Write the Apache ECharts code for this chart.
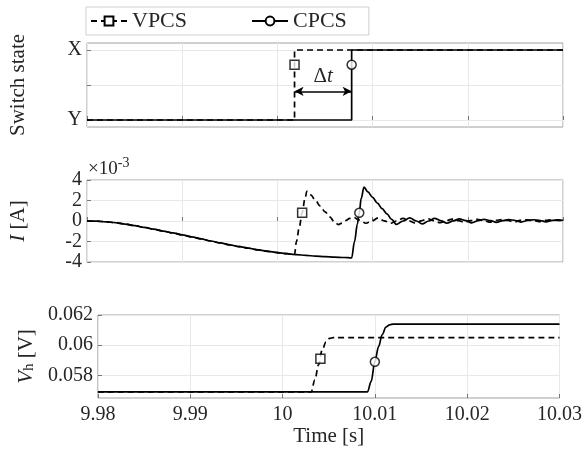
<!DOCTYPE html>
<html><head><meta charset="utf-8">
<script src="https://cdn.jsdelivr.net/npm/echarts@6/dist/echarts.min.js"></script>
<style>html,body{margin:0;padding:0;background:#fff}#c{width:585px;height:453px}</style>
</head><body><div id="c"></div>
<script>
// ---------- data ----------
const timeMin = 9.98, timeMax = 10.03, timeStep = 0.01;
const stateLabels = ['Y', 'X'];           // state 0 = Y, state 1 = X
// top panel: switch state
const vpcsStateT = [9.98, 10.0018, 10.0018, 10.03];
const vpcsState  = [0, 0, 1, 1];
const cpcsStateT = [9.98, 10.0078, 10.0078, 10.03];
const cpcsState  = [0, 0, 1, 1];
const vpcsStateMark = [10.0018, 0.79];
const cpcsStateMark = [10.0078, 0.79];
const deltaT = [10.0018, 10.0078];
const deltaLevel = 0.41;
// middle panel: current (x 1e-3 A), common part before VPCS switching
const preT = [9.98, 9.981, 9.982, 9.983, 9.984, 9.985, 9.986, 9.987, 9.988, 9.989, 9.990, 9.991, 9.992, 9.993, 9.994, 9.995, 9.996, 9.997, 9.998, 9.999, 10.000, 10.001, 10.0018];
const preI = [0, -0.02, -0.08, -0.17, -0.3, -0.45, -0.62, -0.8, -0.98, -1.16, -1.35, -1.55, -1.75, -1.95, -2.14, -2.32, -2.5, -2.66, -2.82, -2.96, -3.08, -3.19, -3.27];
const vpcsCurT = [10.002, 10.0023, 10.0026, 10.0029, 10.0031, 10.0035, 10.004, 10.0045, 10.005, 10.0055, 10.006, 10.0064, 10.0068, 10.0072, 10.0076, 10.008, 10.0086, 10.0093, 10.0099, 10.0106, 10.0112, 10.0119, 10.0125, 10.0132, 10.0138, 10.0145, 10.0151, 10.0158, 10.0164, 10.0171, 10.0177, 10.0184, 10.019, 10.0197, 10.0203, 10.021, 10.0216, 10.0223, 10.0229, 10.0236, 10.0242, 10.0249, 10.0255, 10.0262, 10.0268, 10.0275, 10.0281, 10.0288, 10.0294, 10.03];
const vpcsCur  = [-2.0, -0.6, 0.8, 2.2, 2.9, 2.55, 2.0, 1.45, 0.9, 0.4, -0.1, -0.35, -0.2, 0.05, 0.25, 0.35, 0.1, -0.22, 0.0, 0.3, 0.02, -0.22, 0.0, 0.25, 0.02, -0.2, 0.02, 0.22, 0.03, -0.17, 0.03, 0.19, 0.04, -0.14, 0.04, 0.16, 0.05, -0.11, 0.05, 0.14, 0.05, -0.09, 0.06, 0.12, 0.06, -0.07, 0.06, 0.11, 0.06, 0.02];
const cpcsCurT = [10.002, 10.003, 10.004, 10.005, 10.006, 10.007, 10.0078, 10.0081, 10.0084, 10.0086, 10.0088, 10.0091, 10.0095, 10.01, 10.0105, 10.011, 10.0115, 10.012, 10.0125, 10.0132, 10.0139, 10.0146, 10.0152, 10.0159, 10.0165, 10.0172, 10.0178, 10.0185, 10.0191, 10.0198, 10.0204, 10.0211, 10.0217, 10.0224, 10.023, 10.0237, 10.0243, 10.025, 10.0256, 10.0263, 10.0269, 10.0276, 10.0282, 10.0289, 10.0295, 10.03];
const cpcsCur  = [-3.28, -3.36, -3.42, -3.47, -3.52, -3.56, -3.6, -2.0, -0.3, 0.8, 2.2, 3.3, 2.85, 2.3, 1.75, 1.2, 0.7, 0.15, -0.33, 0.0, 0.3, 0.0, -0.28, 0.0, 0.25, 0.02, -0.22, 0.02, 0.2, 0.03, -0.18, 0.03, 0.16, 0.04, -0.13, 0.04, 0.14, 0.05, -0.1, 0.05, 0.12, 0.05, -0.08, 0.06, 0.11, 0.06];
const vpcsCurMark = [10.0026, 0.8];
const cpcsCurMark = [10.0086, 0.8];
const curTicks = [-4, 4, 2];              // min, max, step (x 1e-3)
// bottom panel: Vh [V]
const vpcsVT = [9.98, 10.0031, 10.0035, 10.0039, 10.0043, 10.0047, 10.0051, 10.0055, 10.03];
const vpcsV  = [0.0569, 0.0569, 0.0577, 0.0587, 0.0597, 0.0602, 0.06045, 0.0605, 0.0605];
const cpcsVT = [9.98, 10.0092, 10.0096, 10.0100, 10.0104, 10.0108, 10.0112, 10.0116, 10.012, 10.03];
const cpcsV  = [0.0569, 0.0569, 0.0576, 0.0589, 0.0599, 0.0607, 0.0612, 0.06135, 0.0614, 0.0614];
const vpcsVMark = [10.0041, 0.0591];
const cpcsVMark = [10.0100, 0.0589];
const vTicks = [0.058, 0.06, 0.062];
const vRange = [0.0565, 0.062];

// ---------- chart ----------
const zip = (a, b) => a.map((v, i) => [v, b[i]]);
const FONT = 'Liberation Serif';
const TXT = '#262626';
const LINE = '#000';
const dash = [6, 4];

const grids = [
  {left: 87, right: 22, top: 43, height: 84},
  {left: 87, right: 22, top: 180, height: 82},
  {left: 87, right: 22, top: 315, height: 83}
].map(g => Object.assign(g, {show: true, borderColor: '#a0a0a0', borderWidth: 1, backgroundColor: '#fff'}));

const xAxes = [0, 1, 2].map(i => ({
  type: 'value', gridIndex: i, min: timeMin, max: timeMax, interval: timeStep,
  axisLine: {show: false},
  axisTick: {show: true, inside: true, length: 4, lineStyle: {color: '#777'}},
  splitLine: {show: true, lineStyle: {color: '#e8e8e8', width: 1}},
  axisLabel: {show: i === 2, fontFamily: FONT, fontSize: 20, color: TXT, margin: 7,
    formatter: v => String(Math.round(v * 100) / 100)},
  name: i === 2 ? 'Time [s]' : '', nameLocation: 'middle', nameGap: 28,
  nameTextStyle: {fontFamily: FONT, fontSize: 21, color: TXT}
}));

const yBase = {
  type: 'value', axisLine: {show: false},
  axisTick: {show: true, inside: true, length: 4, lineStyle: {color: '#777'}},
  splitLine: {show: true, lineStyle: {color: '#e8e8e8', width: 1}},
  nameLocation: 'middle', nameRotate: 90, nameGap: 58,
  nameTextStyle: {fontFamily: FONT, fontSize: 21, color: TXT}
};
const yAxes = [
  Object.assign({}, yBase, {gridIndex: 0, min: -0.1, max: 1.1,
    axisTick: Object.assign({}, yBase.axisTick, {customValues: [0, 0.5, 1]}),
    axisLabel: {customValues: [0, 1], fontFamily: FONT, fontSize: 20, color: TXT, margin: 5,
      formatter: v => stateLabels[Math.round(v)]},
    name: 'Switch state'}),
  Object.assign({}, yBase, {gridIndex: 1, min: curTicks[0], max: curTicks[1], interval: curTicks[2],
    axisLabel: {fontFamily: FONT, fontSize: 20, color: TXT, margin: 5, formatter: v => String(v)},
    name: '{i|I} [A]',
    nameTextStyle: Object.assign({}, yBase.nameTextStyle, {rich: {i: {fontFamily: FONT, fontSize: 21, fontStyle: 'italic', color: TXT}}})}),
  Object.assign({}, yBase, {gridIndex: 2, min: vRange[0], max: vRange[1],
    axisTick: Object.assign({}, yBase.axisTick, {customValues: vTicks}),
    axisLabel: {customValues: vTicks, fontFamily: FONT, fontSize: 20, color: TXT, margin: 5,
      formatter: v => String(Math.round(v * 1000) / 1000)},
    name: '{i|V}{s|h} [V]',
    nameTextStyle: Object.assign({}, yBase.nameTextStyle, {rich: {
      i: {fontFamily: FONT, fontSize: 21, fontStyle: 'italic', color: TXT, verticalAlign: 'bottom'},
      s: {fontFamily: FONT, fontSize: 15, color: TXT, verticalAlign: 'bottom', lineHeight: 15, padding: [14, 0, 0, 0]}
    }})})
];

function lineSeries(name, idx, data, dashed, smooth) {
  return {
    type: 'line', name, xAxisIndex: idx, yAxisIndex: idx, data,
    symbol: name === 'VPCS' ? 'emptyRect' : 'emptyCircle', showSymbol: false, symbolSize: 9,
    smooth: smooth ? 0.35 : false, smoothMonotone: 'x',
    lineStyle: {color: LINE, width: 1.7, type: dashed ? dash : 'solid'},
    itemStyle: {color: LINE}, z: dashed ? 2 : 3, silent: true
  };
}
function markSeries(idx, pts, sym) {
  return {
    type: 'scatter', xAxisIndex: idx, yAxisIndex: idx, data: pts, symbol: sym, symbolSize: 9,
    itemStyle: {color: '#fff', borderColor: LINE, borderWidth: 1.5}, z: 6, silent: true
  };
}

const series = [
  lineSeries('VPCS', 0, zip(vpcsStateT, vpcsState), true, false),
  Object.assign(lineSeries('CPCS', 0, zip(cpcsStateT, cpcsState), false, false), {
    markLine: {
      silent: true, symbol: ['arrow', 'arrow'], symbolSize: [7, 9],
      lineStyle: {color: LINE, width: 1.5, type: 'solid'},
      label: {show: true, position: 'middle', distance: 4, formatter: '{d|Δ}{t|t}',
        rich: {d: {fontFamily: FONT, fontSize: 21, color: TXT}, t: {fontFamily: FONT, fontSize: 21, fontStyle: 'italic', color: TXT}}},
      data: [[{coord: [deltaT[0], deltaLevel]}, {coord: [deltaT[1], deltaLevel]}]]
    }
  }),
  lineSeries('VPCS', 1, zip(preT, preI).concat(zip(vpcsCurT, vpcsCur)), true, true),
  lineSeries('CPCS', 1, zip(preT, preI).concat(zip(cpcsCurT, cpcsCur)), false, true),
  lineSeries('VPCS', 2, zip(vpcsVT, vpcsV), true, true),
  lineSeries('CPCS', 2, zip(cpcsVT, cpcsV), false, true),
  markSeries(0, [vpcsStateMark], 'rect'), markSeries(0, [cpcsStateMark], 'circle'),
  markSeries(1, [vpcsCurMark], 'rect'), markSeries(1, [cpcsCurMark], 'circle'),
  markSeries(2, [vpcsVMark], 'rect'), markSeries(2, [cpcsVMark], 'circle')
];

const chart = echarts.init(document.getElementById('c'), null, {renderer: 'canvas'});
chart.setOption({
  animation: false,
  backgroundColor: '#fff',
  grid: grids, xAxis: xAxes, yAxis: yAxes, series,
  legend: {
    data: ['VPCS', 'CPCS'], left: 86, top: 7, itemWidth: 36, itemHeight: 11, itemGap: 64,
    borderColor: '#cfcfcf', borderWidth: 1, padding: [3, 22, 3, 4], selectedMode: false,
    textStyle: {fontFamily: FONT, fontSize: 22, color: TXT}
  },
  graphic: [{
    type: 'text', left: 88, top: 156, silent: true,
    style: {text: '{a|×10}{b|-3}', rich: {
      a: {fontFamily: FONT, fontSize: 19, fill: TXT, verticalAlign: 'bottom'},
      b: {fontFamily: FONT, fontSize: 14, fill: TXT, verticalAlign: 'bottom', padding: [0, 0, 9, 0]}
    }}
  }]
});
</script></body></html>
